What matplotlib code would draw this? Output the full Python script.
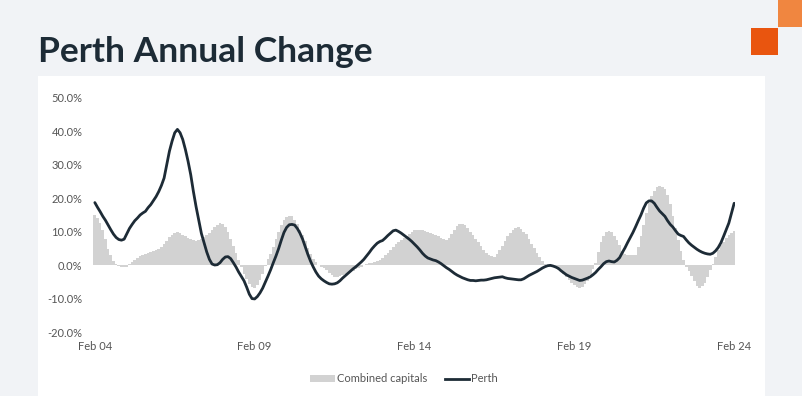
import matplotlib
matplotlib.use("Agg")
import matplotlib.pyplot as plt
import matplotlib.patches as mpatches
from matplotlib.lines import Line2D
import numpy as np

# ---- data (monthly, Feb 2004 .. Feb 2024), annual change in % ----
combined_capitals = [
    15.0, 14.0, 12.5, 10.5, 8.0, 5.0, 3.0, 1.2, 0.3, -0.2, -0.5, -0.6,
    -0.4, 0.3, 1.0, 1.6, 2.2, 2.7, 3.0, 3.3, 3.6, 4.0, 4.3, 4.7,
    5.0, 5.5, 6.4, 7.4, 8.3, 9.0, 9.5, 9.8, 9.5, 9.0, 8.6, 8.2,
    7.8, 7.5, 7.3, 7.6, 8.0, 8.5, 9.0, 9.5, 10.5, 11.5, 12.1, 12.6,
    12.4, 11.3, 10.0, 8.0, 5.8, 3.8, 1.5, -0.5, -2.5, -4.2, -5.5, -6.5,
    -6.8, -5.8, -4.5, -2.5, -0.3, 1.8, 3.5, 5.5, 7.8, 10.0, 12.0, 13.4,
    14.5, 14.8, 14.6, 13.5, 12.2, 10.6, 9.0, 7.2, 5.2, 3.3, 2.0, 0.9,
    0.2, -0.5, -0.9, -1.5, -2.3, -3.0, -3.4, -3.5, -3.3, -3.0, -2.7, -2.3,
    -2.0, -1.6, -1.2, -0.8, -0.4, 0.0, 0.3, 0.6, 0.8, 1.1, 1.4, 1.7,
    2.3, 3.0, 3.7, 4.6, 5.5, 6.3, 6.9, 7.5, 8.1, 8.8, 9.4, 10.0,
    10.4, 10.6, 10.6, 10.5, 10.3, 10.0, 9.7, 9.4, 9.1, 8.6, 8.2, 7.8,
    7.6, 8.2, 9.2, 10.6, 11.6, 12.2, 12.4, 12.0, 11.0, 10.0, 9.0, 7.9,
    6.9, 5.8, 4.6, 3.7, 3.2, 2.8, 2.6, 3.3, 4.5, 5.8, 7.2, 8.6,
    9.7, 10.6, 11.2, 11.3, 10.8, 10.0, 9.2, 7.8, 6.4, 5.1, 3.6, 2.4,
    1.2, 0.3, -0.1, -0.4, -0.6, -0.9, -1.3, -1.8, -2.5, -3.5, -4.5, -5.3,
    -5.9, -6.4, -6.8, -6.5, -5.5, -4.6, -3.0, -1.0, 0.8, 4.0, 7.0, 8.8,
    9.9, 10.1, 9.9, 8.8, 7.5, 6.0, 4.3, 3.5, 3.1, 3.0, 3.0, 3.1,
    5.5, 8.8, 12.0, 15.5, 18.5, 20.6, 22.2, 23.2, 23.6, 23.4, 22.8, 21.0,
    18.2, 14.8, 11.0, 7.5, 4.3, 1.5, -0.5, -1.8, -3.3, -4.8, -6.0, -6.8,
    -6.2, -5.2, -3.5, -1.5, 0.5, 2.6, 4.5, 6.0, 7.0, 8.1, 9.0, 9.6,
    10.1,
]

perth = [
    18.7, 17.3, 16.0, 14.6, 13.4, 12.0, 10.6, 9.3, 8.3, 7.7, 7.5, 7.8,
    9.4, 11.0, 12.2, 13.3, 14.1, 15.0, 15.6, 16.1, 17.2, 18.1, 19.3, 20.5,
    22.0, 23.8, 26.0, 30.0, 34.0, 37.0, 39.5, 40.5, 39.5, 37.5, 34.5, 31.0,
    27.0, 22.0, 17.5, 13.5, 9.5, 6.8, 4.0, 1.8, 0.4, 0.1, 0.2, 0.8,
    1.8, 2.5, 2.6, 2.0, 0.8, -0.5, -2.0, -3.3, -4.6, -6.5, -8.6, -9.9,
    -10.0, -9.3, -8.2, -6.8, -5.0, -3.2, -1.3, 0.8, 2.8, 5.0, 7.5, 9.8,
    11.3, 12.1, 12.2, 12.0, 11.0, 9.6, 7.8, 5.5, 3.2, 1.2, -0.5, -2.0,
    -3.2, -4.0, -4.6, -5.1, -5.5, -5.6, -5.5, -5.2, -4.6, -3.8, -3.1, -2.4,
    -1.7, -1.0, -0.4, 0.3, 1.0, 1.8, 2.8, 3.8, 4.9, 5.8, 6.6, 7.1,
    7.4, 8.1, 8.9, 9.6, 10.3, 10.5, 10.1, 9.6, 9.0, 8.4, 7.8, 7.1,
    6.3, 5.5, 4.6, 3.6, 2.8, 2.2, 1.9, 1.6, 1.4, 1.0, 0.5, -0.1,
    -0.7, -1.2, -1.8, -2.4, -2.9, -3.3, -3.7, -4.0, -4.3, -4.5, -4.5, -4.6,
    -4.5, -4.4, -4.4, -4.3, -4.1, -3.9, -3.7, -3.6, -3.5, -3.4, -3.7, -3.9,
    -4.0, -4.1, -4.2, -4.3, -4.3, -4.0, -3.5, -3.0, -2.6, -2.2, -1.8, -1.3,
    -0.8, -0.4, -0.1, 0.0, -0.2, -0.5, -0.9, -1.6, -2.2, -2.8, -3.2, -3.6,
    -3.9, -4.2, -4.5, -4.4, -4.1, -3.8, -3.4, -2.8, -2.1, -1.2, -0.4, 0.5,
    1.1, 1.3, 1.1, 1.0, 1.5, 2.3, 3.8, 5.2, 6.8, 8.3, 9.8, 11.5,
    13.3, 15.0, 17.0, 18.6, 19.2, 19.2, 18.5, 17.3, 16.2, 15.4, 14.6, 13.3,
    12.2, 11.4, 10.3, 9.3, 8.9, 8.6, 7.6, 6.7, 6.0, 5.4, 4.8, 4.3,
    3.9, 3.6, 3.4, 3.3, 3.6, 4.3, 5.3, 6.7, 8.6, 10.6, 12.6, 15.6,
    18.5,
]

tick_labels = ["Feb 04", "Feb 09", "Feb 14", "Feb 19", "Feb 24"]
tick_months = [0, 60, 120, 180, 240]
y_ticks = [-20, -10, 0, 10, 20, 30, 40, 50]

title = "Perth Annual Change"
series_names = ["Combined capitals", "Perth"]

# ---- styling ----
BG = "#f1f3f6"
NAVY = "#1d2b36"
GREY_BAR = "#d2d2d2"
TICK_C = "#555555"
FONT = ["Lato", "DejaVu Sans"]
plt.rcParams["font.family"] = FONT

W, H = 803, 396
fig = plt.figure(figsize=(W / 100, H / 100), dpi=100, facecolor=BG)

# white panel
panel = mpatches.Rectangle((38 / W, 0), (765 - 38) / W, (H - 76) / H,
                           transform=fig.transFigure, facecolor="white",
                           edgecolor="none", zorder=-5)
fig.patches.append(panel)

# logo squares
fig.patches.append(mpatches.Rectangle((751 / W, 1 - 55 / H), 27 / W, 27 / H,
                   transform=fig.transFigure, facecolor="#e9550f",
                   edgecolor="none", zorder=-5))
fig.patches.append(mpatches.Rectangle((778 / W, 1 - 27 / H), 25 / W, 27 / H,
                   transform=fig.transFigure, facecolor="#f08640",
                   edgecolor="none", zorder=-5))

fig.text(38 / W, 1 - 62 / H, title, fontsize=25.5, fontweight="bold",
         color=NAVY, ha="left", va="baseline")

left_px, right_px = 93.5, 735.5
top_px, bot_px = 97.5, 332.5
ax = fig.add_axes([left_px / W, 1 - bot_px / H, (right_px - left_px) / W,
                   (bot_px - top_px) / H])
ax.set_facecolor("none")
ax.set_zorder(2)

months = np.arange(len(combined_capitals))
ax.bar(months, combined_capitals, width=1.0, color=GREY_BAR, linewidth=0,
       align="center", zorder=1)
ax.plot(np.arange(len(perth)), perth, color=NAVY, linewidth=2.0,
        solid_capstyle="round", solid_joinstyle="round", zorder=3)

ax.set_xlim(-0.5, 240.5)
ax.set_ylim(-20, 50)
ax.set_yticks(y_ticks)
ax.set_yticklabels([f"{v:.1f}%" for v in y_ticks])
ax.set_xticks(tick_months)
ax.set_xticklabels(tick_labels)
ax.tick_params(axis="both", length=0, labelsize=8, colors=TICK_C)
ax.tick_params(axis="y", pad=8)
ax.tick_params(axis="x", pad=6)
for s in ax.spines.values():
    s.set_visible(False)

handles = [mpatches.Patch(facecolor=GREY_BAR, edgecolor="none"),
           Line2D([0], [0], color=NAVY, linewidth=2.0)]
leg = fig.legend(handles, series_names, loc="center",
                 bbox_to_anchor=(404 / W, 1 - 379 / H), ncol=2, frameon=False,
                 fontsize=8, labelcolor=TICK_C, handlelength=2.2,
                 handletextpad=0.15, columnspacing=1.6, handleheight=0.6)

fig.savefig("out.png", dpi=100, facecolor=BG)
